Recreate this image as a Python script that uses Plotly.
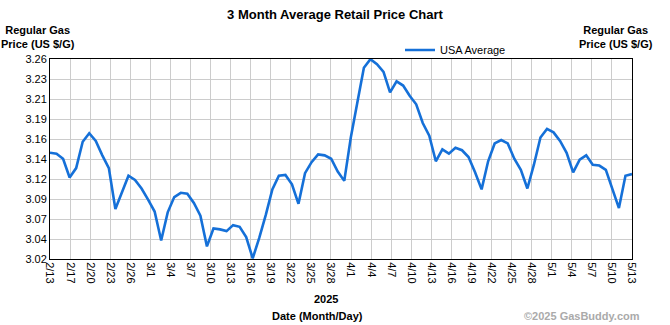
import pandas as pd
import numpy as np
import plotly.graph_objects as go

# ---- data ----
start_date = "2025-02-13"
end_date = "2025-05-13"
prices = [
    3.146, 3.145, 3.139, 3.117, 3.128, 3.159, 3.169, 3.160, 3.143, 3.128,
    3.080, 3.100, 3.119, 3.114, 3.104, 3.091, 3.077, 3.043, 3.076, 3.094,
    3.099, 3.098, 3.087, 3.072, 3.036, 3.057, 3.056, 3.054, 3.061, 3.059,
    3.047, 3.022, 3.046, 3.073, 3.103, 3.119, 3.120, 3.109, 3.086, 3.122,
    3.135, 3.144, 3.143, 3.139, 3.124, 3.113, 3.164, 3.205, 3.246, 3.256,
    3.250, 3.241, 3.217, 3.230, 3.225, 3.213, 3.203, 3.181, 3.166, 3.136,
    3.150, 3.145, 3.152, 3.149, 3.141, 3.123, 3.103, 3.136, 3.157, 3.161,
    3.157, 3.139, 3.126, 3.104, 3.132, 3.164, 3.174, 3.170, 3.160, 3.146,
    3.123, 3.138, 3.143, 3.132, 3.131, 3.126, 3.103, 3.081, 3.119, 3.121,
]
x_tick_labels = [
    "2/13", "2/17", "2/20", "2/23", "2/26", "3/1", "3/4", "3/7", "3/10", "3/13",
    "3/16", "3/19", "3/22", "3/25", "3/28", "4/1", "4/4", "4/7", "4/10", "4/13",
    "4/16", "4/19", "4/22", "4/25", "4/28", "5/1", "5/4", "5/7", "5/10", "5/13",
]
y_min = 3.0212
y_max = 3.2562
y_tick_labels = ["3.02", "3.04", "3.07", "3.09", "3.12", "3.14", "3.16", "3.19", "3.21", "3.23", "3.26"]
series_name = "USA Average"

dates = pd.date_range(start_date, end_date, freq="D")
t0 = pd.Timestamp(start_date)
span_days = (pd.Timestamp(end_date) - t0).days
n_xt = len(x_tick_labels)
x_tickvals = [t0 + pd.Timedelta(days=k * span_days / (n_xt - 1)) for k in range(n_xt)]
y_tickvals = list(np.linspace(y_min, y_max, len(y_tick_labels)))

FONT = "Arial, Liberation Sans, sans-serif"
W, H = 670, 325
L, R, T, B = 50, 38, 59, 66
pw = W - L - R
ph = H - T - B

def px(xp):
    return (xp - L) / pw

def py(yp):
    return 1 + (T - yp) / ph

fig = go.Figure()
fig.add_trace(go.Scatter(
    x=dates, y=prices, mode="lines", name=series_name,
    line=dict(color="#1570d8", width=2.6),
))

fig.update_layout(
    width=W, height=H,
    margin=dict(l=L, r=R, t=T, b=B),
    paper_bgcolor="white", plot_bgcolor="white",
    font=dict(family=FONT, size=11, color="black"),
    title=dict(text="3 Month Average Retail Price Chart", x=0.5, xanchor="center",
               y=1 - 14 / H, yanchor="middle",
               font=dict(family=FONT, size=13, weight="bold", color="black")),
    showlegend=True,
    legend=dict(x=px(400), y=py(50), xanchor="left", yanchor="middle",
                bgcolor="rgba(0,0,0,0)", font=dict(size=11, color="black"),
                itemwidth=30),
    xaxis=dict(
        type="date", range=[dates[0], dates[-1]],
        tickmode="array", tickvals=x_tickvals, ticktext=x_tick_labels,
        tickangle=90, showgrid=True, gridcolor="#cccccc", gridwidth=1,
        showline=True, linecolor="black", linewidth=1, mirror=True,
        ticks="", zeroline=False, tickfont=dict(size=11),
    ),
    yaxis=dict(
        range=[y_min, y_max], tickmode="array", tickvals=y_tickvals, ticktext=y_tick_labels,
        showgrid=True, gridcolor="#cccccc", gridwidth=1,
        showline=True, linecolor="black", linewidth=1, mirror=True,
        ticks="", zeroline=False, tickfont=dict(size=11),
    ),
    yaxis2=dict(
        range=[y_min, y_max], tickmode="array", tickvals=y_tickvals, ticktext=y_tick_labels,
        overlaying="y", side="right", showgrid=False, zeroline=False,
        showline=False, ticks="", tickfont=dict(size=11),
    ),
)

annos = [
    dict(text="<b>Regular Gas<br>Price (US $/G)</b>", x=px(38), y=py(37), xanchor="center", yanchor="middle", size=11, color="black"),
    dict(text="<b>Regular Gas<br>Price (US $/G)</b>", x=px(616), y=py(37), xanchor="center", yanchor="middle", size=11, color="black"),
    dict(text="<b>2025</b>", x=px(326), y=py(299), xanchor="center", yanchor="middle", size=11, color="black"),
    dict(text="<b>Date (Month/Day)</b>", x=px(317), y=py(316), xanchor="center", yanchor="middle", size=11, color="black"),
    dict(text="<b>©2025 GasBuddy.com</b>", x=px(642), y=py(316), xanchor="right", yanchor="middle", size=11, color="#aaaaaa"),
]
for a in annos:
    fig.add_annotation(text=a["text"], x=a["x"], y=a["y"], xref="paper", yref="paper",
                       xanchor=a["xanchor"], yanchor=a["yanchor"], showarrow=False,
                       font=dict(family=FONT, size=a["size"], color=a["color"]),
                       align="center")

fig.write_html("out.html")
